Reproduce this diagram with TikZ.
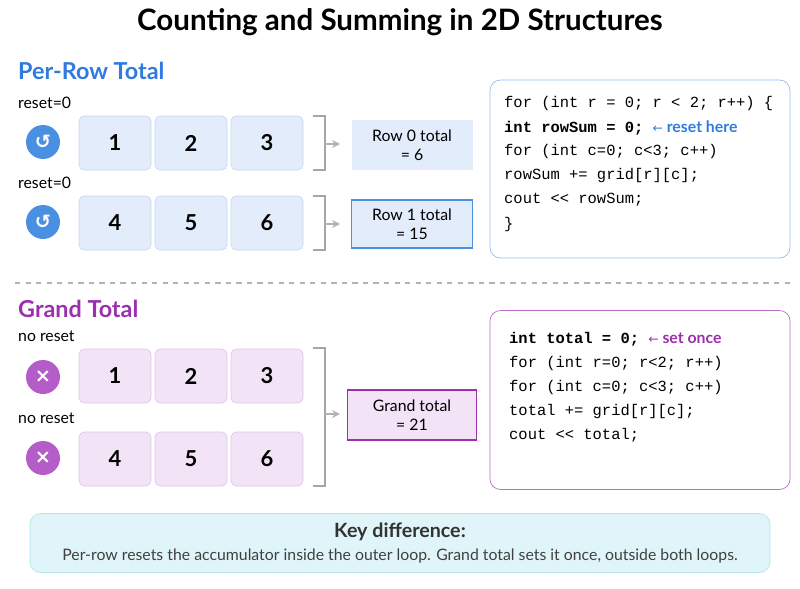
\documentclass[tikz,border=0pt]{standalone}
\usepackage{fontspec}
\setmainfont{Lato}
\setmonofont{Liberation Mono}
\newfontfamily\symfont{DejaVu Sans}
\usetikzlibrary{positioning}
\definecolor{rowblue}{HTML}{2F7BE0}
\definecolor{cellblue}{HTML}{E3ECFA}
\definecolor{edgeblue}{HTML}{C5D8F5}
\definecolor{iconblue}{HTML}{4A90E2}
\definecolor{grandpurple}{HTML}{9B2FAE}
\definecolor{cellpurple}{HTML}{F3E3F6}
\definecolor{edgepurple}{HTML}{E3C4EA}
\definecolor{iconpurple}{HTML}{B45CC8}
\definecolor{keyfill}{HTML}{E0F5FA}
\definecolor{keyedge}{HTML}{B9E3EE}
\tikzset{
  cell/.style={draw=edgeblue, fill=cellblue, rounded corners=3pt, minimum width=72*0.02cm, minimum height=54*0.02cm, font=\fontsize{12.5}{14}\selectfont\bfseries},
  pcell/.style={cell, draw=edgepurple, fill=cellpurple},
  icon/.style={circle, fill=iconblue, text=white, minimum size=34*0.02cm, inner sep=0pt, font=\symfont\fontsize{11}{11}\selectfont\bfseries},
  tag/.style={anchor=west, font=\fontsize{9}{10}\selectfont},
  code/.style={anchor=west, font=\ttfamily\fontsize{8.8}{10}\selectfont},
  bracket/.style={draw=gray!70, line width=1pt},
  flow/.style={->, >=stealth, draw=gray!60, line width=1pt},
  total/.style={align=center, font=\fontsize{9}{11}\selectfont, minimum width=121*0.02cm, minimum height=50*0.02cm, inner sep=1pt},
}
\begin{document}
\begin{tikzpicture}[x=0.02cm, y=-0.02cm]
        \useasboundingbox (0,0) rectangle (800,588);
        \node (title) at (400,22) {\fontsize{16.8}{18}\selectfont\bfseries Counting and Summing in 2D Structures};
        % per-row part
        \node[anchor=west, text=rowblue, font=\fontsize{13.3}{15}\selectfont\bfseries] (rowhead) at (12,71) {Per-Row Total};
        \node[tag] (tagA) at (12,103) {reset=0};
        \node[icon] (iconA) at (43,142) {↺};
        \node[cell] (a1) at (115,143) {1};
        \node[cell] (a2) at (191,143) {2};
        \node[cell] (a3) at (267,143) {3};
        \node[tag] (tagB) at (12,183) {reset=0};
        \node[icon] (iconB) at (43,222) {↺};
        \node[cell] (b1) at (115,223) {4};
        \node[cell] (b2) at (191,223) {5};
        \node[cell] (b3) at (267,223) {6};
        \draw[bracket] (313,116) -- (325,116) -- (325,170) -- (313,170);
        \draw[bracket] (313,196) -- (325,196) -- (325,250) -- (313,250);
        \node[total, fill=cellblue] (sumA) at (412,145) {Row 0 total\\= 6};
        \node[total, fill=cellblue, draw=iconblue, line width=1pt, minimum height=48*0.02cm] (sumB) at (412,224) {Row 1 total\\= 15};
        \coordinate (brA) at (325,144);
        \coordinate (brB) at (325,224);
        \draw[flow] (brA) -- ++(15,0);
        \draw[flow] (brB) -- ++(15,0);
        \node[draw=iconblue!60, rounded corners=6pt, minimum width=300*0.02cm, minimum height=178*0.02cm] (codeA) at (640,169) {};
        \node[code] at (498,104) {for (int r = 0; r < 2; r++) \{};
        \node[code] at (498,128) {\textbf{int rowSum = 0;} \textcolor{rowblue}{\symfont\fontsize{7}{9}\selectfont←\rmfamily\bfseries\fontsize{9}{10}\selectfont\ reset here}};
        \node[code] at (498,152) {for (int c=0; c<3; c++)};
        \node[code] at (498,176) {rowSum += grid[r][c];};
        \node[code] at (498,200) {cout << rowSum;};
        \node[code] at (498,224) {\}};
        % separator
        \draw[gray!60, dashed, line width=0.8pt] (15,283) -- (790,283);
        % grand total part
        \node[anchor=west, text=grandpurple, font=\fontsize{13.3}{15}\selectfont\bfseries] (grandhead) at (12,309) {Grand Total};
        \node[tag] (tagC) at (12,336) {no reset};
        \node[icon, fill=iconpurple] (iconC) at (43,377) {×};
        \node[pcell] (c1) at (115,376) {1};
        \node[pcell] (c2) at (191,376) {2};
        \node[pcell] (c3) at (267,376) {3};
        \node[tag] (tagD) at (12,418) {no reset};
        \node[icon, fill=iconpurple] (iconD) at (43,458) {×};
        \node[pcell] (d1) at (115,459) {4};
        \node[pcell] (d2) at (191,459) {5};
        \node[pcell] (d3) at (267,459) {6};
        \draw[bracket] (313,348) -- (325,348) -- (325,486) -- (313,486);
        \coordinate (brC) at (325,414);
        \draw[flow] (brC) -- ++(15,0);
        \node[total, fill=cellpurple, draw=grandpurple, line width=1pt, minimum width=129*0.02cm] (sumC) at (412,415) {Grand total\\= 21};
        \node[draw=grandpurple!70, rounded corners=6pt, minimum width=300*0.02cm, minimum height=179*0.02cm] (codeB) at (640,400) {};
        \node[code] at (503,339) {\textbf{int total = 0;} \textcolor{grandpurple}{\symfont\fontsize{7}{9}\selectfont←\rmfamily\bfseries\fontsize{9}{10}\selectfont\ set once}};
        \node[code] at (503,363) {for (int r=0; r<2; r++)};
        \node[code] at (503,387) {for (int c=0; c<3; c++)};
        \node[code] at (503,411) {total += grid[r][c];};
        \node[code] at (503,435) {cout << total;};
        % key box
        \node[draw=keyedge, fill=keyfill, rounded corners=6pt, minimum width=740*0.02cm, minimum height=59*0.02cm] (keybox) at (400,543) {};
        \node[font=\fontsize{11.2}{12}\selectfont\bfseries, text=black!80] (keyhead) at (400,532) {Key difference:};
        \node[font=\fontsize{9}{10}\selectfont, text=black!75] (keytext) at (400,556) {Per-row resets the accumulator inside the outer loop. Grand total sets it once, outside both loops.};
\end{tikzpicture}
\end{document}
